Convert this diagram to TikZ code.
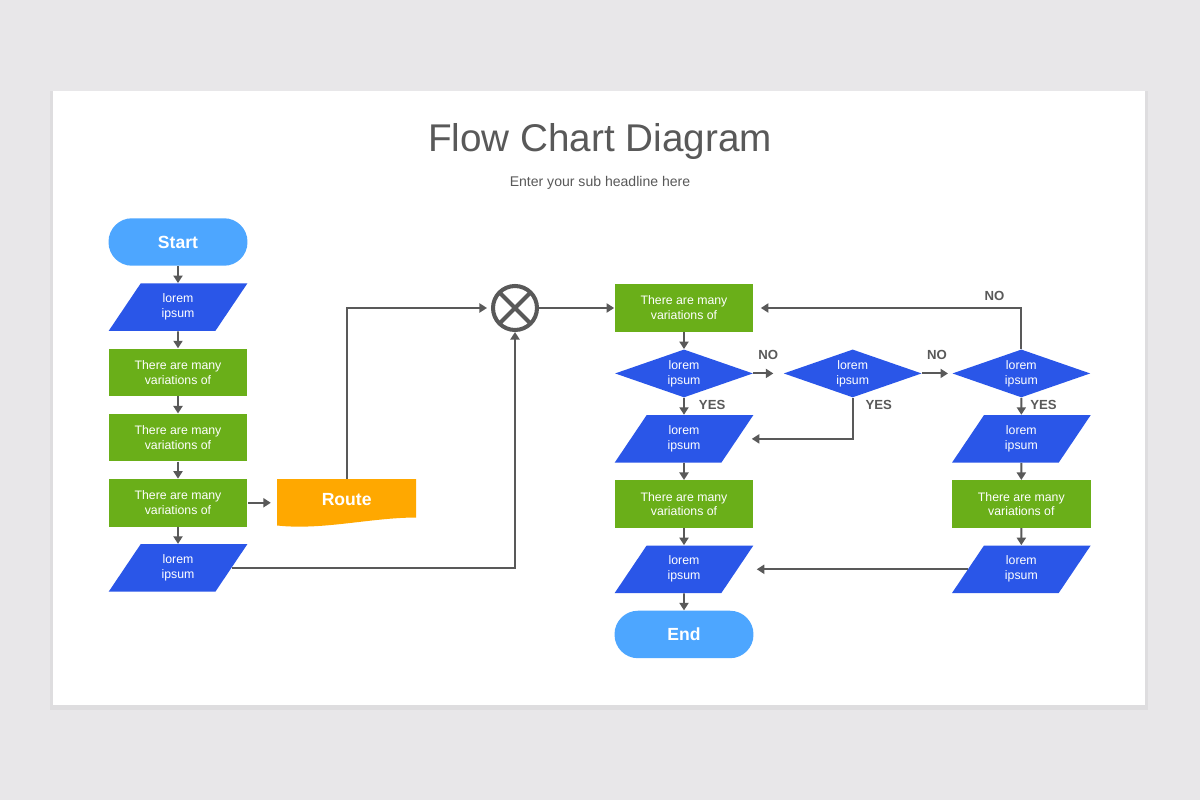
\documentclass[tikz,border=0pt]{standalone}
\usepackage{fontspec}
\setmainfont{Liberation Sans}
\usetikzlibrary{arrows.meta, positioning, shapes.geometric, calc}
\definecolor{slidebg}{HTML}{E8E7E9}
\definecolor{inkgray}{HTML}{595959}
\definecolor{pillblue}{HTML}{4DA6FF}
\definecolor{ioblue}{HTML}{2A56E8}
\definecolor{stepgreen}{HTML}{6AAF19}
\definecolor{routeor}{HTML}{FFA800}
\tikzset{
  term/.style={fill=pillblue, rounded corners=0.47cm, minimum width=2.78cm, minimum height=0.95cm,
    text=white, font=\bfseries\fontsize{10}{12}\selectfont},
  iobox/.style={trapezium, trapezium left angle=62, trapezium right angle=118, trapezium stretches=true,
    fill=ioblue, minimum width=2.78cm, minimum height=0.95cm, inner sep=0pt, align=center,
    text=white, font=\fontsize{7}{8.5}\selectfont},
  sbox/.style={fill=stepgreen, minimum width=2.78cm, minimum height=0.95cm, inner sep=0pt, align=center,
    text=white, font=\fontsize{7}{8.5}\selectfont},
  dbox/.style={diamond, aspect=2.9, fill=ioblue, minimum width=2.76cm, minimum height=0.96cm, inner sep=0pt, align=center,
    text=white, font=\fontsize{7}{8.5}\selectfont},
  routebox/.style={minimum width=2.78cm, minimum height=0.95cm, text depth=0.14cm, text=white,
    font=\bfseries\fontsize{10}{12}\selectfont,
    path picture={\fill[routeor] (path picture bounding box.north west) -- (path picture bounding box.north east)
      -- ($(path picture bounding box.south east)+(0,0.18cm)$)
      .. controls +(-0.9cm,0cm) and +(0.9cm,-0.1cm) .. ($(path picture bounding box.south west)+(0,0.02cm)$) -- cycle;}},
  mixnode/.style={circle, draw=inkgray, line width=2.3pt, minimum size=0.88cm, inner sep=0pt,
    path picture={\draw[inkgray, line width=2.3pt] (path picture bounding box.north west) -- (path picture bounding box.south east)
      (path picture bounding box.north east) -- (path picture bounding box.south west);}},
  flow/.style={-{Triangle[length=0.15cm, width=0.18cm]}, draw=inkgray, line width=1.1pt},
  ans/.style={inner sep=0pt, text=inkgray, font=\bfseries\fontsize{7.5}{9}\selectfont}
}

\begin{document}
\begin{tikzpicture}[x=0.02cm, y=-0.02cm, node distance=0.34cm and 0.6cm]
\useasboundingbox (0,0) rectangle (1200,800);
\fill[slidebg] (0,0) rectangle (1200,800);
\fill[black, opacity=0.04] (50,91) rectangle (1148,710);
\fill[white] (53,91) rectangle (1145,705);
\node[font=\fontsize{22}{26}\selectfont, text=inkgray] (title) at (600,142) {Flow Chart Diagram};
\node[font=\fontsize{8}{10}\selectfont, text=inkgray] (sub) at (600,183) {Enter your sub headline here};
% left column
\node[term] (start) at (178,242) {Start};
\node[iobox, below=of start] (in1) {lorem\\ipsum};
\node[sbox, below=of in1] (s1) {There are many\\variations of};
\node[sbox, below=of s1] (s2) {There are many\\variations of};
\node[sbox, below=of s2] (s3) {There are many\\variations of};
\node[iobox, below=of s3] (in2) {lorem\\ipsum};
\node[routebox, right=0.58cm of s3] (route) {Route};
\node[mixnode] (mix) at (515,308) {};
% right side
\node[sbox] (r1) at (684,308) {There are many\\variations of};
\node[dbox, below=of r1] (d1) {lorem\\ipsum};
\node[iobox, below=of d1] (ir1) {lorem\\ipsum};
\node[sbox, below=of ir1] (r2) {There are many\\variations of};
\node[iobox, below=of r2] (ir2) {lorem\\ipsum};
\node[term, below=of ir2] (end) {End};
\node[dbox, right=of d1] (d2) {lorem\\ipsum};
\node[dbox, right=of d2] (d3) {lorem\\ipsum};
\node[iobox, below=of d3] (ir3) {lorem\\ipsum};
\node[sbox, below=of ir3] (r3) {There are many\\variations of};
\node[iobox, below=of r3] (ir4) {lorem\\ipsum};
% connectors
\draw[flow] (start) -- (in1); \draw[flow] (in1) -- (s1); \draw[flow] (s1) -- (s2);
\draw[flow] (s2) -- (s3); \draw[flow] (s3) -- (in2);
\draw[flow, shorten >=0.12cm] (s3) -- (route);
\draw[flow, shorten >=0.08cm] (route.north) |- (mix.west);
\draw[flow] (in2.east) -| (mix.south);
\draw[flow] (mix.east) -- (r1.west);
\draw[flow] (r1) -- (d1);
\draw[flow] (d1) -- node[ans, pos=0.4, right=0.28cm] {YES} (ir1);
\draw[flow, shorten >=0.2cm] (d1.east) -- node[ans, above=0.26cm] {NO} (d2.west);
\draw[flow, shorten >=0.08cm] (d2.east) -- node[ans, above=0.26cm] {NO} (d3.west);
\draw[flow, shorten >=0.28cm] (d2.south) |- node[ans, pos=0.09, right=0.24cm] {YES} (ir1.east);
\draw[flow, shorten >=0.14cm] (d3.north) |- node[ans, pos=0.5, anchor=south east, xshift=-0.32cm, yshift=0.12cm] {NO} (r1.east);
\draw[flow] (d3) -- node[ans, pos=0.4, right=0.16cm] {YES} (ir3);
\draw[flow] (ir1) -- (r2); \draw[flow] (r2) -- (ir2); \draw[flow] (ir2) -- (end);
\draw[flow] (ir3) -- (r3); \draw[flow] (r3) -- (ir4);
\draw[flow, shorten >=0.38cm] (ir4.west) -- (ir2.east);
\end{tikzpicture}
\end{document}
